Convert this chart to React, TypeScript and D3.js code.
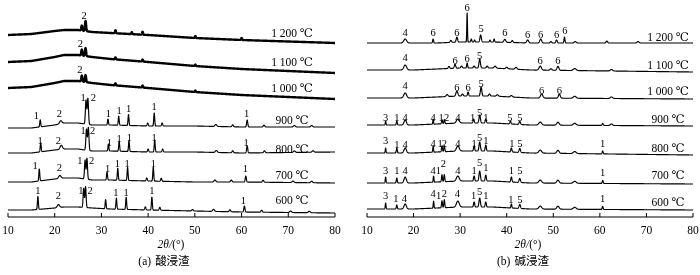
import React from "react";
import * as d3 from "d3";

// ---------- data ----------
const tickValues = [10, 20, 30, 40, 50, 60, 70, 80];
const tempLabels = ["1 200 ℃", "1 100 ℃", "1 000 ℃", "900 ℃", "800 ℃", "700 ℃", "600 ℃"];

// vertical stacking offsets (intensity units) of each pattern
const offsetsA = [182, 155, 129, 89, 64, 35, 7];
const offsetsB = [174, 147, 119, 92, 64, 34, 8];
// level of the temperature label relative to the pattern offset
const tempLevelA = [2, 0, 0, 8, 4, 7, 10];
const tempLevelB = [6, 5, 7, 6, 5, 8, 7];

// background (amorphous hump / drift) knots and values
const bgKnotsA = [10, 15, 20, 22, 25, 28, 32, 40, 50, 60, 80];
const bgA = [
  [0, 1, 4, 5, 5, 3, 2, 0, -3, -5, -8],
  [0, 1, 5, 7, 7, 5, 3, 0, -4, -7, -11],
  [0, 1, 5, 7, 7, 5, 3, 0, -4, -7, -11],
  [0, 0, 3, 5, 5, 3, 3, 2, 2, 1, 1],
  [0, 0, 3, 4, 4, 2, 2, 1, 1, 0, 1],
  [0, 0, 3, 4, 4, 2, 2, 1, 0, 0, -1],
  [0, 0, 2, 3, 3, 2, 1, 0, -1, -2, -3],
];
const bgKnotsB = [10, 20, 25, 30, 37, 45, 80];
const bgB = [
  [0, 0, 0, 1, 1, 0, 0],
  [0, 0, 1, 2, 2, 0, -2],
  [0, 0, 1, 2, 2, 0, -1],
  [0, 0, 1, 2, 2, 0, -1],
  [0, 0, 1, 2, 2, 0, -2],
  [0, 0, 1, 2, 2, 0, -1],
  [0, 0, 1, 2, 2, 0, -1],
];

// peaks: [2θ, height, sigma]
const peaksA = [
  [[25.8, 5, 0.12], [26.6, 10, 0.12], [33.0, 3, 0.1], [36.5, 2, 0.1], [38.8, 3, 0.1], [50.1, 2, 0.1], [60.0, 2, 0.1]],
  [[25.8, 6, 0.12], [26.6, 8, 0.12], [33.0, 2, 0.1], [38.8, 2, 0.1], [50.1, 1.5, 0.1]],
  [[25.8, 6, 0.12], [26.6, 7, 0.12], [33.0, 2, 0.1], [38.8, 2, 0.1], [50.1, 1.5, 0.1]],
  [[16.9, 7, 0.1], [21.3, 3, 0.25], [26.7, 24, 0.13], [27.1, 26, 0.13], [31.4, 6, 0.1], [33.7, 9, 0.1], [35.8, 11, 0.1], [39.9, 3, 0.12], [41.3, 13, 0.1], [43.0, 3, 0.12], [54.5, 2, 0.2], [58.1, 2, 0.15], [61.2, 7, 0.12], [64.8, 2, 0.15], [71.3, 1.5, 0.2], [75.0, 1.5, 0.2]],
  [[17.0, 9, 0.1], [21.4, 4, 0.25], [26.8, 21, 0.13], [27.2, 23, 0.13], [31.5, 7, 0.1], [33.8, 10, 0.1], [35.9, 11, 0.1], [40.0, 3, 0.12], [41.4, 12, 0.1], [43.1, 3, 0.12], [54.6, 2, 0.2], [58.1, 2, 0.15], [61.2, 7, 0.12], [64.9, 2, 0.15], [71.3, 1.5, 0.2], [75.3, 1.5, 0.2]],
  [[16.7, 12, 0.1], [21.1, 3, 0.25], [26.5, 19, 0.12], [26.9, 21, 0.12], [31.2, 8, 0.1], [33.5, 12, 0.1], [35.6, 13, 0.1], [39.7, 3, 0.12], [41.1, 14, 0.1], [42.8, 3, 0.12], [54.3, 2, 0.2], [57.8, 2, 0.15], [60.9, 6, 0.12], [64.6, 2, 0.15], [71.0, 1.5, 0.2], [75.0, 1.5, 0.2]],
  [[16.4, 13, 0.1], [20.8, 3, 0.25], [26.2, 19, 0.12], [26.6, 21, 0.12], [30.9, 9, 0.1], [33.2, 11, 0.1], [35.3, 12, 0.1], [39.4, 3, 0.12], [40.8, 13, 0.1], [42.5, 3, 0.12], [49.5, 1.5, 0.15], [54.0, 2, 0.2], [57.5, 2, 0.15], [60.6, 6, 0.12], [64.3, 2, 0.15], [70.5, 1.5, 0.2], [74.5, 1.5, 0.2]],
];
const peaksB = [
  [[18.2, 4, 0.3], [24.2, 4, 0.1], [28.0, 2, 0.15], [29.3, 5, 0.15], [31.5, 29, 0.07], [32.4, 3, 0.1], [33.1, 2, 0.1], [34.4, 7, 0.15], [36.4, 2, 0.1], [37.3, 3, 0.1], [39.6, 3, 0.2], [41.2, 2, 0.15], [44.5, 3, 0.2], [47.3, 4, 0.2], [49.5, 1.5, 0.15], [50.7, 3, 0.15], [52.4, 6, 0.1], [54.7, 1.5, 0.2], [61.5, 2, 0.15], [68.2, 1.5, 0.2]],
  [[18.2, 5, 0.3], [27.6, 2, 0.15], [28.9, 4, 0.15], [30.3, 2, 0.15], [31.5, 5, 0.1], [33.0, 2, 0.15], [34.2, 9, 0.15], [35.8, 2, 0.15], [37.5, 2, 0.2], [40.0, 1.5, 0.2], [42.0, 2, 0.2], [47.2, 4, 0.25], [49.5, 1.5, 0.2], [51.0, 4, 0.2], [54.6, 2, 0.3], [62.5, 1.5, 0.25]],
  [[18.2, 5, 0.3], [27.2, 2, 0.2], [29.3, 5, 0.2], [30.5, 2, 0.15], [31.7, 4, 0.12], [34.5, 9, 0.15], [36.3, 2, 0.15], [38.0, 1.5, 0.2], [41.0, 1.5, 0.2], [47.5, 4, 0.25], [51.3, 4, 0.2], [54.6, 2, 0.3], [62.5, 1.5, 0.25]],
  [[14.0, 4, 0.08], [16.4, 4, 0.1], [18.2, 5, 0.25], [24.2, 5, 0.08], [26.1, 4, 0.1], [26.6, 4, 0.1], [29.5, 4, 0.3], [32.9, 4, 0.12], [34.2, 8, 0.15], [35.5, 4, 0.12], [40.8, 3, 0.12], [42.8, 3, 0.15], [47.2, 3, 0.3], [51.0, 3, 0.25], [54.6, 2, 0.3], [60.6, 2, 0.12], [62.5, 1.5, 0.25]],
  [[14.0, 5, 0.08], [16.4, 5, 0.1], [18.2, 5, 0.25], [24.2, 6, 0.08], [26.1, 6, 0.1], [26.6, 6, 0.1], [29.5, 5, 0.3], [33.0, 5, 0.12], [34.2, 9, 0.15], [35.5, 6, 0.12], [41.0, 4, 0.12], [42.8, 4, 0.15], [47.2, 3, 0.3], [51.0, 3, 0.25], [54.6, 2, 0.3], [60.6, 3, 0.1]],
  [[14.0, 6, 0.08], [16.4, 5, 0.1], [18.2, 6, 0.25], [24.3, 6, 0.08], [26.1, 7, 0.1], [26.6, 7, 0.1], [29.5, 5, 0.3], [33.0, 5, 0.12], [34.2, 10, 0.15], [35.5, 6, 0.12], [41.0, 5, 0.12], [42.8, 4, 0.15], [47.2, 3, 0.3], [51.0, 3, 0.25], [54.6, 2, 0.3], [60.6, 3, 0.1]],
  [[14.0, 6, 0.08], [16.4, 4, 0.1], [18.2, 5, 0.25], [24.3, 7, 0.08], [26.1, 7, 0.1], [26.6, 8, 0.1], [29.5, 6, 0.3], [33.0, 5, 0.12], [34.2, 9, 0.15], [35.5, 5, 0.12], [41.0, 4, 0.1], [42.8, 4, 0.15], [47.2, 3, 0.3], [51.0, 3, 0.25], [54.6, 2, 0.3], [60.6, 3, 0.1]],
];

// phase marks: [2θ, label, level of label centre above pattern offset]
const marksA = [
  [[26.3, "2", 20]],
  [[25.5, "2", 19]],
  [[25.4, "2", 19]],
  [[16.1, "1", 13], [21.0, "2", 15], [26.1, "1", 31], [28.3, "2", 31], [31.5, "1", 15], [33.8, "1", 18], [35.8, "1", 20], [41.3, "1", 22], [61.1, "1", 15]],
  [[16.9, "1", 13], [20.8, "2", 13], [26.1, "1", 23], [28.1, "2", 23], [31.7, "1", 11], [33.8, "1", 15], [36.0, "1", 16], [41.3, "1", 16], [61.0, "1", 11]],
  [[15.8, "1", 17], [21.0, "2", 15], [25.4, "1", 22], [27.9, "2", 22], [31.3, "1", 14], [33.4, "1", 19], [35.5, "1", 19], [41.1, "1", 19], [60.8, "1", 14]],
  [[16.4, "1", 20], [20.8, "2", 15], [25.6, "1", 20], [27.6, "2", 20], [33.1, "1", 18], [35.3, "1", 18], [40.8, "1", 20], [60.4, "1", 10]],
];
const marksB = [
  [[18.2, "4", 11], [24.2, "6", 11], [29.3, "6", 11], [31.5, "6", 36], [34.5, "5", 15], [39.6, "6", 11], [44.5, "6", 9], [47.3, "6", 9], [50.7, "6", 9], [52.5, "6", 13]],
  [[18.2, "4", 13], [28.9, "6", 10], [31.5, "6", 12], [34.2, "5", 15], [47.2, "6", 10], [51.0, "6", 10]],
  [[18.2, "4", 13], [29.3, "6", 11], [31.7, "6", 11], [34.5, "5", 15], [47.5, "6", 8], [51.3, "6", 8]],
  [[14.0, "3", 8], [16.4, "1", 8], [18.2, "4", 8], [24.2, "4", 8], [25.9, "1", 8], [27.1, "2", 8], [29.5, "4", 8], [32.7, "1", 8], [34.2, "5", 13], [35.5, "1", 8], [40.7, "5", 8], [42.8, "5", 8]],
  [[14.0, "3", 13], [16.4, "1", 9], [18.2, "4", 9], [24.2, "4", 10], [25.7, "1", 10], [26.6, "2", 10], [29.5, "4", 10], [33.0, "1", 10], [34.2, "5", 16], [35.5, "1", 13], [41.1, "1", 10], [42.8, "5", 10], [60.6, "1", 10]],
  [[14.0, "3", 13], [16.4, "1", 13], [18.2, "4", 13], [24.2, "4", 13], [25.3, "1", 13], [26.4, "2", 20], [29.5, "4", 13], [33.0, "1", 13], [34.2, "5", 21], [35.5, "1", 16], [41.0, "1", 13], [42.8, "5", 13], [60.6, "1", 11]],
  [[14.0, "3", 14], [16.2, "1", 11], [18.0, "4", 11], [24.2, "4", 16], [25.4, "1", 14], [26.6, "2", 16], [29.4, "4", 16], [32.9, "1", 14], [34.2, "5", 18], [35.5, "1", 14], [40.9, "1", 10], [42.8, "5", 10], [60.6, "1", 11]],
];
const amorphousA = [true, true, true, false, false, false, false];

const FONT = "Liberation Serif, DejaVu Serif, serif";
const CJK = "Noto Sans CJK SC, sans-serif";

function buildCurve(offset: number, knots: number[], vals: number[], peaks: number[][]) {
  const bg = d3.scaleLinear().domain(knots).range(vals);
  return d3.range(10, 80.0001, 0.02).map((x) => {
    let v = offset + bg(x);
    for (const [p, h, s] of peaks) {
      const d = (x - p) / s;
      if (Math.abs(d) < 7) v += h * Math.exp(-0.5 * d * d);
    }
    return [x, v] as [number, number];
  });
}

type PanelProps = {
  x0: number; x1: number; offsets: number[]; tempLevel: number[]; knots: number[]; bg: number[][];
  peaks: number[][][]; marks: (string | number)[][][]; tempX: number; title: string; titleX: number;
  axisLabelX: number; thick?: boolean[];
};

const txt = (size: number, extra: any = {}) => ({ fontFamily: FONT, fontSize: size + "px", fill: "#000", ...extra });

function Panel(p: PanelProps) {
  const axisY = 217;
  const x = d3.scaleLinear().domain([10, 80]).range([p.x0, p.x1]);
  const y = d3.scaleLinear().domain([0, 217]).range([axisY, 0]);
  const line = d3.line<[number, number]>().x((d) => x(d[0])).y((d) => y(d[1]));
  const [tPre, tCjk] = p.title.split(" ");
  return (
    <g>
      {p.offsets.map((off, i) => {
        const pts = buildCurve(off, p.knots, p.bg[i], p.peaks[i]);
        const thick = p.thick ? p.thick[i] : false;
        return (
          <g key={i}>
            <path d={line(pts) || ""} fill="none" stroke="#000" strokeWidth={thick ? 2.4 : 1.15} strokeLinejoin="round" />
            {p.marks[i].map((m, j) => (
              <text key={j} x={x(m[0] as number)} y={y(off + (m[2] as number))} dy="0.35em" textAnchor="middle"
                style={txt(10.5)}>{m[1]}</text>
            ))}
            <text x={p.tempX} y={y(off + p.tempLevel[i])} dy="0.35em" textAnchor="middle" style={txt(11.5)}>
              {tempLabels[i]}
            </text>
          </g>
        );
      })}
      <line x1={p.x0} x2={p.x1} y1={axisY} y2={axisY} stroke="#000" strokeWidth={1} />
      {tickValues.map((t) => (
        <g key={t}>
          <line x1={x(t)} x2={x(t)} y1={axisY} y2={axisY - 4} stroke="#000" strokeWidth={1} />
          <text x={x(t)} y={234} textAnchor="middle" style={txt(11.5)}>{t}</text>
        </g>
      ))}
      <text x={p.axisLabelX} y={248} textAnchor="middle" style={txt(11.5)}>
        <tspan style={{ fontStyle: "italic" }}>2θ/</tspan>(°)
      </text>
      <text x={p.titleX} y={265} textAnchor="middle" style={txt(11.5)}>
        {tPre}<tspan dx={4} style={{ fontFamily: CJK, fontSize: "11.5px" }}>{tCjk}</tspan>
      </text>
    </g>
  );
}

export default function App() {
  return (
    <svg width={700} height={275}
      style={{ position: "absolute", left: 0, top: 0, background: "#fff", filter: "grayscale(1)" }}>
      <rect width={700} height={275} fill="#fff" />
      <Panel x0={8} x1={335} offsets={offsetsA} tempLevel={tempLevelA} knots={bgKnotsA} bg={bgA} peaks={peaksA}
        marks={marksA} tempX={292} title="(a) 酸浸渣" titleX={164} axisLabelX={171} thick={amorphousA} />
      <Panel x0={367} x1={693} offsets={offsetsB} tempLevel={tempLevelB} knots={bgKnotsB} bg={bgB} peaks={peaksB}
        marks={marksB} tempX={668} title="(b) 碱浸渣" titleX={523} axisLabelX={528} />
    </svg>
  );
}
